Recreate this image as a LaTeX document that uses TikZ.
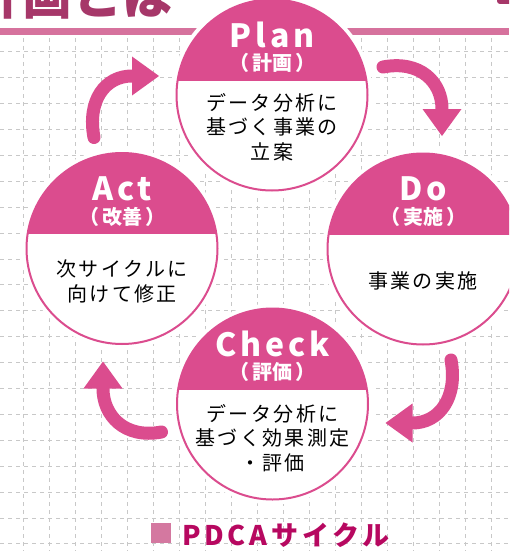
\documentclass[tikz,border=0pt]{standalone}
\usepackage{fontspec}
\setmainfont{Noto Sans CJK JP}
\usetikzlibrary{calc}
\definecolor{pinkc}{RGB}{219,76,142}
\definecolor{bandc}{RGB}{214,114,157}
\definecolor{titlec}{RGB}{166,55,105}
\definecolor{capc}{RGB}{183,8,96}
\definecolor{sqc}{RGB}{212,120,160}
\definecolor{gridc}{RGB}{200,200,200}
\newcommand{\pgap}{\hspace{3pt}}
\begin{document}
\begin{tikzpicture}[x=1pt,y=-1pt,
  phase/.style={circle, minimum size=191pt, inner sep=0pt, draw=pinkc, line width=2pt, fill=white,
    preaction={draw=white, line width=10pt},
    path picture={\fill[pinkc] (path picture bounding box.north west) rectangle ([yshift=14.5pt]path picture bounding box.east);}},
  ttl/.style={text=white, inner sep=0pt, font=\bfseries\fontsize{32}{32}\selectfont\addfontfeature{LetterSpace=12}},
  subttl/.style={text=white, inner sep=0pt, font=\bfseries\fontsize{20}{20}\selectfont},
  body/.style={text=black, inner sep=0pt, align=center, font=\fontsize{20}{24.5}\selectfont\addfontfeature{LetterSpace=12}},
  gridline/.style={draw=gridc, line width=0.8pt, dash pattern=on 4pt off 4pt},
  shaft/.style={draw=pinkc, line width=13pt, line cap=round},
  headc/.style={fill=pinkc}
]
\useasboundingbox (0,0) rectangle (509,551);
\clip (0,0) rectangle (509,551);
\fill[white] (0,0) rectangle (509,551);
% grid
\foreach \i in {0,...,18} \draw[gridline] (23+26*\i,38) -- (23+26*\i,551);
\foreach \j in {0,...,19} \draw[gridline] (0,51.7+25.9*\j) -- (509,51.7+25.9*\j);
% band and heading
\fill[bandc] (0,28) rectangle (509,35);
\node[anchor=base west, inner sep=0pt, text=titlec, font=\bfseries\fontsize{50}{50}\selectfont] (heading) at (-28,15) {計画とは};
\fill[titlec, rounded corners=3pt] (497,-8) rectangle (515,4);
% circles
\node[phase] (plan) at (272,95) {};
\node[phase] (do) at (423,249) {};
\node[phase] (check) at (272.5,404) {};
\node[phase] (act) at (122,248.5) {};
% texts
\node[ttl] (planT) at ($(plan)+(0,-60)$) {Plan};
\node[subttl] (planS) at ($(plan)+(0,-32)$) {（\pgap 計画\pgap ）};
\node[body] (planB) at ($(plan)+(0,32)$) {データ分析に\\基づく事業の\\立案};
\node[ttl] (doT) at ($(do)+(0,-60)$) {Do};
\node[subttl] (doS) at ($(do)+(0,-32)$) {（\pgap 実施\pgap ）};
\node[body] (doB) at ($(do)+(0,32)$) {事業の実施};
\node[ttl] (checkT) at ($(check)+(0,-60)$) {Check};
\node[subttl] (checkS) at ($(check)+(0,-32)$) {（\pgap 評価\pgap ）};
\node[body] (checkB) at ($(check)+(0,34)$) {データ分析に\\基づく効果測定\\・評価};
\node[ttl] (actT) at ($(act)+(0,-60)$) {Act};
\node[subttl] (actS) at ($(act)+(0,-32)$) {（\pgap 改善\pgap ）};
\node[body] (actB) at ($(act)+(0,33)$) {次サイクルに\\向けて修正};
% arrows
\draw[shaft] ($(plan)+(111,-28)$) .. controls ($(plan)+(148,-35)$) and ($(do)+(19,-167)$) .. ($(do)+(19,-140)$);
\fill[headc] ($(do)+(-0.5,-140)$) -- ($(do)+(38.5,-140)$) -- ($(do)+(19,-113)$) -- cycle;
\draw[shaft] ($(do)+(28,111)$) .. controls ($(do)+(35,148)$) and ($(check)+(167,19)$) .. ($(check)+(140,19)$);
\fill[headc] ($(check)+(140,-0.5)$) -- ($(check)+(140,38.5)$) -- ($(check)+(113,19)$) -- cycle;
\draw[shaft] ($(check)+(-111,28)$) .. controls ($(check)+(-148,35)$) and ($(act)+(-19,167)$) .. ($(act)+(-19,140)$);
\fill[headc] ($(act)+(-38.5,140)$) -- ($(act)+(0.5,140)$) -- ($(act)+(-19,113)$) -- cycle;
\draw[shaft] ($(act)+(-28,-111)$) .. controls ($(act)+(-35,-148)$) and ($(plan)+(-167,-19)$) .. ($(plan)+(-140,-19)$);
\fill[headc] ($(plan)+(-140,-38.5)$) -- ($(plan)+(-140,0.5)$) -- ($(plan)+(-113,-19)$) -- cycle;
% caption
\node[fill=sqc, minimum size=20pt, inner sep=0pt] (sq) at (161,533) {};
\node[anchor=base west, inner sep=0pt, text=capc, font=\bfseries\fontsize{27}{27}\selectfont\addfontfeature{LetterSpace=14}] (caption) at (182,545) {PDCAサイクル};
\end{tikzpicture}
\end{document}
